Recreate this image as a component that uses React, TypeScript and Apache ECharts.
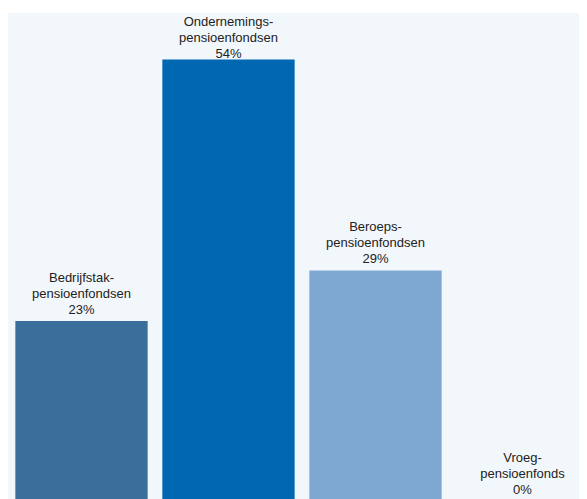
import React, { useEffect, useRef } from "react";
import * as echarts from "echarts";

const categories = [
  "Bedrijfstak-\npensioenfondsen",
  "Ondernemings-\npensioenfondsen",
  "Beroeps-\npensioenfondsen",
  "Vroeg-\npensioenfonds",
];
const values = [23, 54, 29, 0];
const colors = ["#3b6e9a", "#0067b3", "#7ea7d2", "#7ea7d2"];
const labelDistances = [4, -2, 4, 18];

export default function App() {
  const ref = useRef<HTMLDivElement>(null);
  useEffect(() => {
    if (!ref.current) return;
    const chart = echarts.init(ref.current, null, { renderer: "svg" });
    chart.setOption({
      animation: false,
      graphic: [
        {
          type: "rect",
          z: -10,
          shape: { x: 0, y: 5, width: 700, height: 700 },
          style: { fill: "#f2f7fb" },
          silent: true,
        },
      ],
      grid: { left: 0, right: 0, top: 1, bottom: 0 },
      xAxis: {
        type: "category",
        data: categories,
        show: false,
      },
      yAxis: {
        type: "value",
        min: 0,
        max: 60,
        show: false,
      },
      series: [
        {
          type: "bar",
          barCategoryGap: "10%",
          data: values.map((v, i) => ({
            value: v,
            itemStyle: { color: colors[i] },
            label: { distance: labelDistances[i] },
          })),
          label: {
            show: true,
            position: "top",
            fontFamily: "Liberation Sans, Arial, sans-serif",
            fontSize: 13,
            lineHeight: 16,
            color: "#222222",
            align: "center",
            formatter: (p: any) => `${p.name}\n${p.value}%`,
          },
        },
      ],
    });
    return () => chart.dispose();
  }, []);
  return (
    <div style={{ width: 579, height: 491, overflow: "hidden" }}>
      <div ref={ref} style={{ width: 588, height: 507 }} />
    </div>
  );
}
